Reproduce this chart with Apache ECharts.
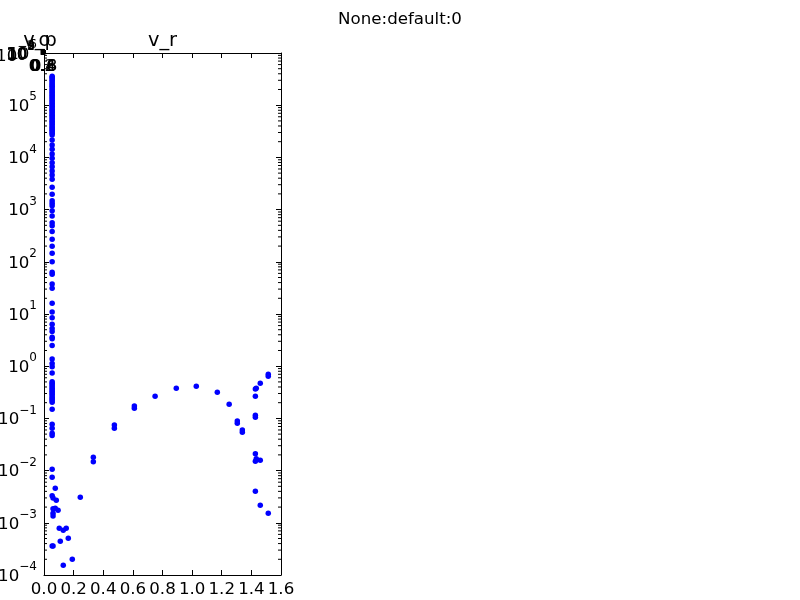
<!DOCTYPE html>
<html><head><meta charset="utf-8">
<style>html,body{margin:0;padding:0;background:#fff}#c{width:800px;height:600px}</style>
<script src="https://cdn.jsdelivr.net/npm/echarts@6/dist/echarts.min.js"></script>
</head><body><div id="c"></div>
<script>
// Column of points near v_r = 0.055
const columnX = 0.055;
const columnY = [3.6e5,3.4e5,3.2e5,3e5,2.8e5,2.6e5,2.45e5,2.3e5,2.15e5,2e5,1.87e5,1.75e5,1.64e5,1.53e5,1.43e5,1.34e5,1.25e5,1.17e5,1.09e5,1.02e5,9.5e4,8.9e4,8.3e4,7.8e4,7.3e4,6.8e4,6.4e4,6e4,5.6e4,5.2e4,4.9e4,4.6e4,4.3e4,4e4,3.75e4,3.5e4,3.3e4,3.1e4,2.9e4,2.7e4,
 2.15e4,1.73e4,1.43e4,1.16e4,9.6e3,7.9e3,6.6e3,5.5e3,4.6e3,3.8e3,2.67e3,1.96e3,1.48e3,1.32e3,1.19e3,953,754,561,492,380,270,198,146,100,63,57.5,37.6,31,16,10.9,8.5,6.35,5.3,4.6,3.6,3.36,2.5,1.37,1.13,0.98,0.74,
 0.505,0.47,0.44,0.41,0.38,0.355,0.33,0.31,0.29,0.27,0.25,0.235,0.22,0.205,0.149,0.077,0.065,0.052,0.047,0.0106,0.00745,0.0033,0.00036];
// Remaining points
const restX = [0.076,0.061,0.083,0.076,0.061,0.095,0.061,0.061,0.103,0.13,0.15,0.164,0.11,0.061,0.191,0.13,0.245,
 0.333,0.333,0.475,0.475,0.61,0.61,0.75,0.893,1.028,1.17,1.25,1.305,1.305,1.339,1.339,
 1.427,1.433,1.427,1.427,1.427,1.427,1.433,1.427,1.46,1.46,1.514,1.514,1.427,1.46,1.514];
const restY = [0.00458,0.0030,0.0027,0.0019,0.00185,0.00174,0.00152,0.00135,0.000785,0.000718,0.000785,0.000505,0.000443,0.00036,0.0002,0.000153,0.00308,
 0.018,0.0148,0.0748,0.065,0.173,0.156,0.265,0.378,0.412,0.316,0.186,0.089,0.0805,0.06,0.054,
 0.366,0.378,0.265,0.115,0.105,0.0211,0.0169,0.0151,0.0157,0.47,0.70,0.64,0.004,0.00216,0.00152];
const yDecades = [-4,-3,-2,-1,0,1,2,3,4,5,6];
const smallDecades = [-4,-2,0,2,4,6];
const titleText = 'None:default:0';
const mainTitle = 'v_r';
const stackedTitles = ['v_p','o'];

const FONT = 'DejaVu Sans';
const minorMultiples = [2,3,4,5,6,7,8,9];
const minors = [];
yDecades.slice(0,-1).forEach(d => minorMultiples.forEach(m => minors.push([m*Math.pow(10,d)])));
const pts = columnY.map(y=>[columnX,y]).concat(restX.map((x,i)=>[x,restY[i]]));

const supFmt = v => { const e=Math.round(Math.log10(v)); return '{b|10}{s|'+(e<0?'\u2212'+(-e):e)+'}'; };
const rich = {b:{fontFamily:FONT,fontSize:16.67,color:'#000',verticalAlign:'bottom',lineHeight:17},
              s:{fontFamily:FONT,fontSize:12,color:'#000',verticalAlign:'top',lineHeight:24,padding:[0,0,8,0]}};
const tick = len => ({show:true,inside:true,length:len,lineStyle:{color:'#000',width:1}});
const line = {show:true,onZero:false,lineStyle:{color:'#000',width:1}};
const xBase = {type:'value',gridIndex:0,min:0,max:1.6,interval:0.2,splitLine:{show:false},axisLine:line,axisTick:tick(5)};
const yBase = {type:'log',gridIndex:0,min:1e-4,max:1e6,logBase:10,splitLine:{show:false},axisLine:line,axisTick:tick(5)};
const titleStyle = {fontFamily:FONT,fontSize:19.4,fontWeight:'normal',color:'#000'};
const MINOR_LEN = 3;

const option = {
 animation:false, backgroundColor:'#fff',
 title:[
  {text:titleText,left:400,top:11,padding:0,textAlign:'center',textStyle:{fontFamily:FONT,fontSize:16.67,fontWeight:'normal',color:'#000'}},
  {text:mainTitle,left:162.5,top:31,padding:0,textAlign:'center',textStyle:titleStyle},
  {text:stackedTitles[0],left:40,top:31,padding:0,textAlign:'center',textStyle:titleStyle},
  {text:stackedTitles[1],left:44.5,top:31,padding:0,textAlign:'center',textStyle:titleStyle}
 ],
 grid:[
  {left:44,top:53,width:237,height:522,show:false,outerBoundsMode:'none'},
  {left:41,top:50,width:4,height:4,show:true,backgroundColor:'transparent',borderColor:'#000',borderWidth:1,outerBoundsMode:'none'}
 ],
 xAxis:[
  Object.assign({},xBase,{position:'bottom',axisLabel:{show:true,fontFamily:FONT,fontSize:16.67,color:'#000',margin:6,formatter:v=>v.toFixed(1)}}),
  Object.assign({},xBase,{position:'top',axisLabel:{show:false}}),
  {type:'value',gridIndex:1,min:0,max:1,interval:0.2,position:'bottom',splitLine:{show:false},axisLine:line,axisTick:tick(5),
   axisLabel:{show:true,fontFamily:FONT,fontSize:16.67,color:'#000',margin:4,formatter:v=>v.toFixed(1)}}
 ],
 yAxis:[
  Object.assign({},yBase,{position:'left',axisLabel:{show:true,margin:7,padding:[0,0,4,0],formatter:supFmt,rich,customValues:yDecades.map(d=>Math.pow(10,d))}}),
  Object.assign({},yBase,{position:'right',axisLabel:{show:false}}),
  Object.assign({},yBase,{gridIndex:1,position:'left',axisLine:line,axisTick:tick(5),axisLabel:{show:true,margin:6,formatter:supFmt,rich,customValues:smallDecades.map(d=>Math.pow(10,d))}})
 ],
 series:[
  {type:'scatter',xAxisIndex:0,yAxisIndex:0,data:pts,symbol:'circle',symbolSize:5.5,itemStyle:{color:'#0000ff',opacity:1},clip:false,z:3},
  {type:'custom',xAxisIndex:0,yAxisIndex:0,data:minors,clip:false,silent:true,z:2,encode:{y:0},
   renderItem:(params,api)=>{
     const v=api.value(0);
     const l=api.coord([0,v]), r=api.coord([1.6,v]);
     const st={stroke:'#000',lineWidth:1};
     return {type:'group',children:[
       {type:'line',shape:{x1:l[0],y1:l[1],x2:l[0]+MINOR_LEN,y2:l[1]},style:st},
       {type:'line',shape:{x1:r[0],y1:r[1],x2:r[0]-MINOR_LEN,y2:r[1]},style:st}
     ]};
   }}
 ]
};
const chart = echarts.init(document.getElementById('c'),null,{renderer:'canvas'});
chart.setOption(option);
</script></body></html>
